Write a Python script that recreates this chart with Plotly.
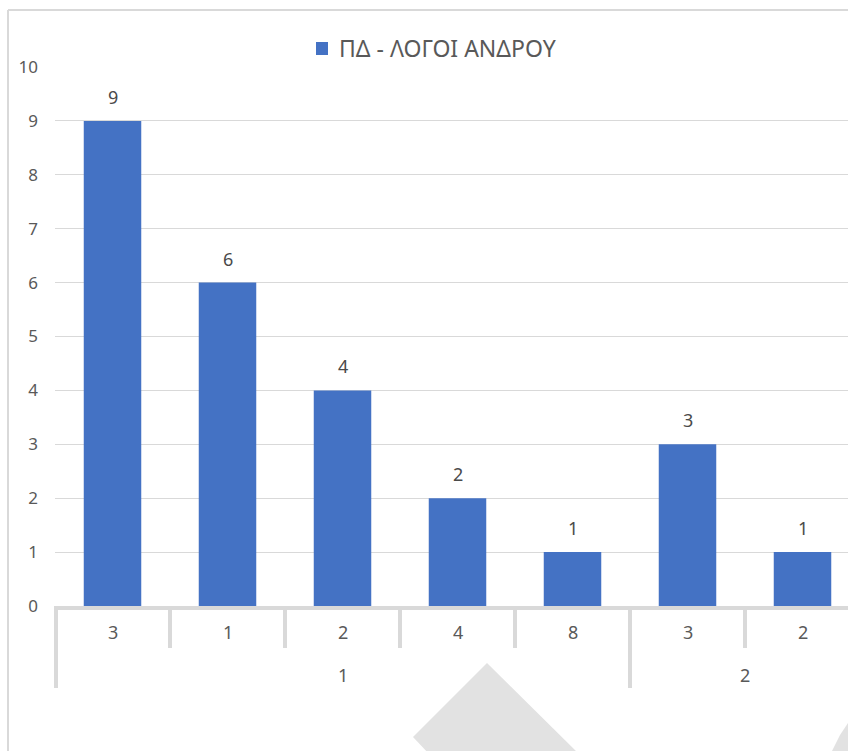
import plotly.graph_objects as go

# data
groups = ["1", "1", "1", "1", "1", "2", "2"]
subcats = ["3", "1", "2", "4", "8", "3", "2"]
values = [9, 6, 4, 2, 1, 3, 1]
series_name = "ΠΔ - ΛΟΓΟΙ ΑΝΔΡΟΥ"

W, H = 848, 751
ML, MT, MB = 55, 67, 751 - 606
PLOT_H = H - MT - MB
PLOT_W = W - ML
FONT = "Noto Sans"
BAR = "#4472C4"
GRID = "#d9d9d9"

xs = list(range(len(values)))

fig = go.Figure()
fig.add_trace(go.Bar(x=xs, y=values, name=series_name, marker_color=BAR,
                     marker_line_width=0, width=0.5, showlegend=False))


def py(p):
    # pixel row -> paper y
    return (H - MB - p) / PLOT_H


def px(p):
    # pixel column -> paper x
    return (p - ML) / PLOT_W


# data labels above bars
for x, v in zip(xs, values):
    fig.add_annotation(x=x, y=v, text=str(v), showarrow=False, yanchor="bottom",
                       yshift=10, font=dict(family=FONT, size=18, color="#4a4a4a"))

# inner category labels and dividers
for x, s in zip(xs, subcats):
    fig.add_annotation(x=x, y=0, yref="paper", text=s, showarrow=False,
                       yanchor="middle", yshift=-26,
                       font=dict(family=FONT, size=18, color="#595959"))
shapes = []
for i in range(1, len(xs)):
    same = groups[i] == groups[i - 1]
    y1 = py(648) if same else py(688)
    shapes.append(dict(type="line", xref="x", yref="paper", x0=i - 0.5, x1=i - 0.5,
                       y0=0, y1=y1, line=dict(color=GRID, width=4)))
shapes.append(dict(type="line", xref="paper", yref="paper", x0=px(56), x1=px(56),
                   y0=0, y1=py(688), line=dict(color=GRID, width=4)))

# outer group labels
for g in dict.fromkeys(groups):
    idx = [i for i, gg in enumerate(groups) if gg == g]
    fig.add_annotation(x=sum(idx) / len(idx), y=0, yref="paper", text=g, showarrow=False,
                       yanchor="middle", yshift=-69,
                       font=dict(family=FONT, size=18, color="#595959"))

# legend (drawn by hand so it does not push the top margin)
shapes.append(dict(type="rect", xref="paper", yref="paper",
                   x0=px(316), x1=px(328), y0=py(55), y1=py(42),
                   fillcolor=BAR, line=dict(width=0)))
fig.add_annotation(x=px(337), y=py(48), xref="paper", yref="paper", text=series_name,
                   showarrow=False, xanchor="left", yanchor="middle",
                   font=dict(family=FONT, size=23, color="#595959"))

# chart frame
shapes.append(dict(type="line", xref="paper", yref="paper", x0=px(8), x1=px(8),
                   y0=py(760), y1=py(10), line=dict(color=GRID, width=2)))
shapes.append(dict(type="line", xref="paper", yref="paper", x0=px(8), x1=px(860),
                   y0=py(10), y1=py(10), line=dict(color=GRID, width=2)))


# watermark fragments
def poly(pts):
    return "M " + " L ".join(f"{px(a)},{py(b)}" for a, b in pts) + " Z"


shapes.append(dict(type="path", xref="paper", yref="paper", layer="below",
                   path=poly([(487, 663), (580, 755), (430, 755), (413, 737)]),
                   fillcolor="#e2e2e2", line=dict(width=0)))
shapes.append(dict(type="path", xref="paper", yref="paper", layer="below",
                   path=poly([(850, 720), (850, 755), (830, 755), (840, 735)]),
                   fillcolor="#e2e2e2", line=dict(width=0)))

fig.update_layout(
    width=W, height=H,
    margin=dict(l=ML, r=0, t=MT, b=MB),
    paper_bgcolor="white", plot_bgcolor="white",
    font=dict(family=FONT, size=18, color="#595959"),
    showlegend=False,
    shapes=shapes,
)
fig.update_xaxes(range=[-0.5, 6.5 - 12 / 115], showticklabels=False, showgrid=False,
                 zeroline=False, showline=True, linecolor=GRID, linewidth=4, ticks="")
fig.update_yaxes(range=[0, 10], dtick=1, showgrid=True, gridcolor=GRID, gridwidth=1,
                 zeroline=False, showline=False, ticks="", ticklabelstandoff=16,
                 tickfont=dict(family=FONT, size=17, color="#595959"))

# drop the default body margin so the figure fills the window exactly
fig.write_html("out.html", config={"displayModeBar": False},
               post_script="document.body.style.margin='0';")
